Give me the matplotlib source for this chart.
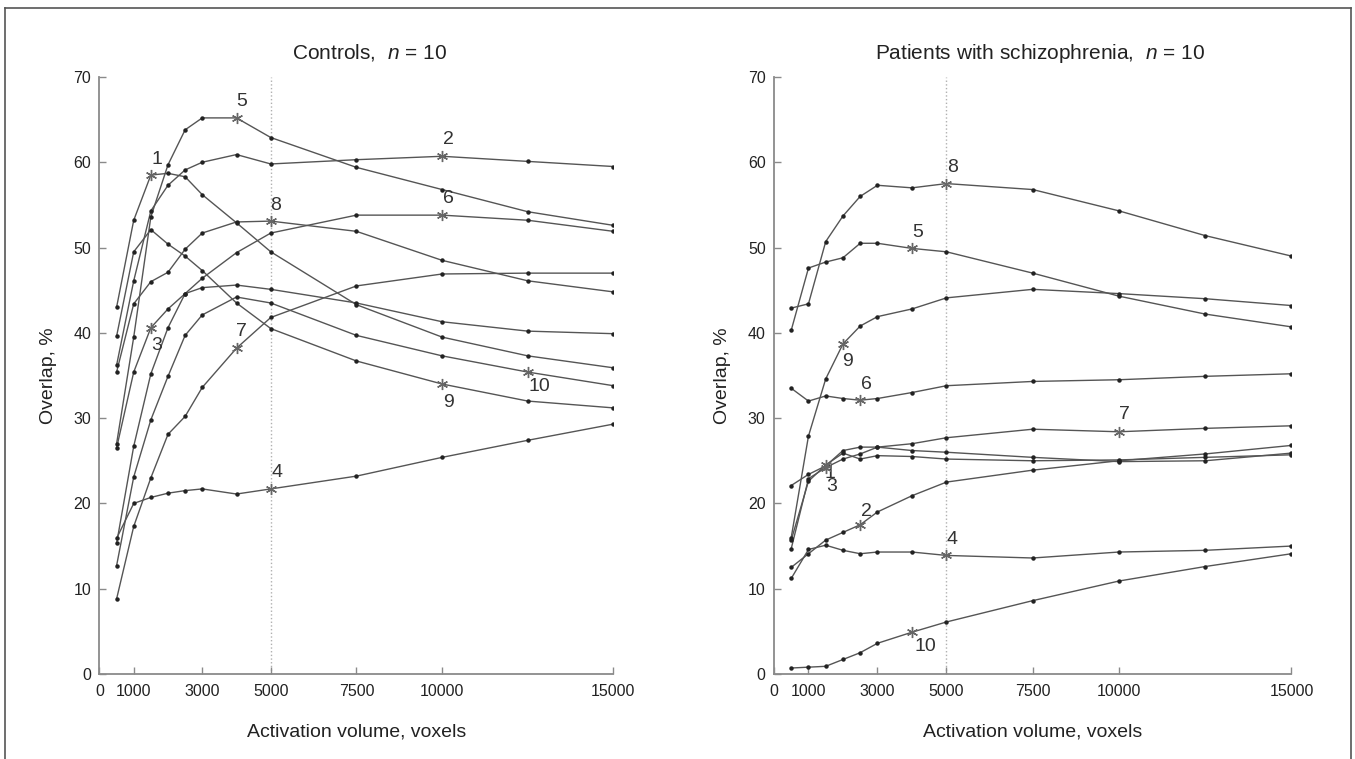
import matplotlib
matplotlib.use('Agg')
import matplotlib.pyplot as plt
from matplotlib.lines import Line2D

plt.rcParams['font.family'] = ['Liberation Sans', 'DejaVu Sans']
plt.rcParams['mathtext.fontset'] = 'custom'
plt.rcParams['mathtext.rm'] = 'Liberation Sans'
plt.rcParams['mathtext.it'] = 'Liberation Sans:italic'

# activation volume (voxels) at which overlap was computed
volume = [500, 1000, 1500, 2000, 2500, 3000, 4000, 5000, 7500, 10000, 12500, 15000]

# controls, overlap %
ctrl_1 = [43.0, 53.2, 58.5, 58.7, 58.3, 56.2, 52.9, 49.5, 43.3, 39.5, 37.3, 35.9]
ctrl_2 = [36.2, 46.1, 54.3, 57.3, 59.1, 60.0, 60.9, 59.8, 60.3, 60.7, 60.1, 59.5]
ctrl_3 = [26.5, 35.4, 40.6, 42.8, 44.6, 45.3, 45.6, 45.1, 43.5, 41.3, 40.2, 39.9]
ctrl_4 = [15.9, 20.0, 20.7, 21.2, 21.5, 21.7, 21.1, 21.7, 23.2, 25.4, 27.4, 29.3]
ctrl_5 = [27.0, 39.5, 53.6, 59.7, 63.8, 65.2, 65.2, 62.9, 59.4, 56.8, 54.2, 52.6]
ctrl_6 = [15.3, 26.7, 35.2, 40.6, 44.6, 46.4, 49.4, 51.7, 53.8, 53.8, 53.2, 51.9]
ctrl_7 = [8.8, 17.3, 23.0, 28.1, 30.2, 33.6, 38.2, 41.8, 45.5, 46.9, 47.0, 47.0]
ctrl_8 = [35.4, 43.4, 46.0, 47.1, 49.8, 51.7, 53.0, 53.1, 51.9, 48.5, 46.1, 44.8]
ctrl_9 = [39.6, 49.5, 52.1, 50.4, 49.0, 47.3, 43.5, 40.5, 36.7, 34.0, 32.0, 31.2]
ctrl_10 = [12.7, 23.1, 29.8, 34.9, 39.7, 42.1, 44.2, 43.5, 39.7, 37.3, 35.4, 33.8]

# patients with schizophrenia, overlap %
pat_1 = [15.7, 22.6, 24.5, 25.9, 25.2, 25.6, 25.5, 25.2, 25.0, 25.1, 25.4, 25.7]
pat_2 = [12.5, 14.1, 15.7, 16.6, 17.5, 19.0, 20.9, 22.5, 23.9, 25.0, 25.8, 26.8]
pat_3 = [14.7, 22.9, 24.2, 25.2, 25.8, 26.6, 26.2, 26.0, 25.4, 24.9, 25.0, 25.9]
pat_4 = [11.2, 14.6, 15.1, 14.5, 14.1, 14.3, 14.3, 13.9, 13.6, 14.3, 14.5, 15.0]
pat_5 = [40.3, 47.6, 48.3, 48.8, 50.5, 50.5, 49.9, 49.5, 47.0, 44.3, 42.2, 40.7]
pat_6 = [33.5, 32.0, 32.6, 32.3, 32.1, 32.3, 33.0, 33.8, 34.3, 34.5, 34.9, 35.2]
pat_7 = [22.1, 23.4, 24.4, 26.2, 26.6, 26.6, 27.0, 27.7, 28.7, 28.4, 28.8, 29.1]
pat_8 = [42.9, 43.4, 50.7, 53.7, 56.0, 57.3, 57.0, 57.5, 56.8, 54.3, 51.4, 49.0]
pat_9 = [16.0, 27.9, 34.6, 38.7, 40.8, 41.9, 42.8, 44.1, 45.1, 44.6, 44.0, 43.2]
pat_10 = [0.7, 0.8, 0.9, 1.7, 2.5, 3.6, 4.9, 6.1, 8.6, 10.9, 12.6, 14.1]

# volume where each subject's curve carries its asterisk
ctrl_star = [1500, 10000, 1500, 5000, 4000, 10000, 4000, 5000, 10000, 12500]
pat_star = [1500, 2500, 1500, 5000, 4000, 2500, 10000, 5000, 2000, 4000]

controls = [ctrl_1, ctrl_2, ctrl_3, ctrl_4, ctrl_5, ctrl_6, ctrl_7, ctrl_8, ctrl_9, ctrl_10]
patients = [pat_1, pat_2, pat_3, pat_4, pat_5, pat_6, pat_7, pat_8, pat_9, pat_10]

# label offsets from the asterisk, in pixels (right, down)
ctrl_off = [(6, -16), (6, -17), (6, 18), (6, -16), (5, -16),
            (6, -17), (5, -17), (5, -16), (6, 18), (12, 14)]
pat_off = [(4, 8), (6, -13), (6, 19), (6, -16), (6, -16),
           (6, -16), (5, -17), (6, -16), (5, 18), (13, 14)]

xticks = [0, 1000, 3000, 5000, 7500, 10000, 15000]
yticks = [0, 10, 20, 30, 40, 50, 60, 70]

line_col = '#555555'
axis_col = '#8a8a8a'


def panel(ax, series, stars, offsets, title, title_x):
    ax.axvline(5000, ymin=0, ymax=1, color='#b0b0b0', ls=':', lw=1.0, zorder=1)
    for i, ys in enumerate(series):
        ax.plot(volume, ys, color=line_col, lw=1.0, zorder=2)
        k = volume.index(stars[i])
        xs_dot = [v for j, v in enumerate(volume) if j != k]
        ys_dot = [y for j, y in enumerate(ys) if j != k]
        ax.plot(xs_dot, ys_dot, ls='none', marker='o', ms=2.2, color='#222222', zorder=3)
        ax.plot(volume[k], ys[k], ls='none', marker=(6, 2, 0), ms=8, mew=1.0,
                color='#666666', zorder=4)
        dx, dy = offsets[i]
        ax.annotate(str(i + 1), (volume[k], ys[k]), xytext=(dx, -dy),
                    textcoords='offset pixels', ha='center', va='center',
                    fontsize=14, color='#333333')
    ax.set_xlim(0, 15000)
    ax.set_ylim(0, 70)
    ax.set_xticks(xticks)
    ax.set_xticklabels([str(t) for t in xticks])
    ax.set_yticks(yticks)
    for s in ['top', 'right']:
        ax.spines[s].set_visible(False)
    for s in ['left', 'bottom']:
        ax.spines[s].set_color(axis_col)
        ax.spines[s].set_linewidth(1.3)
    ax.tick_params(direction='in', length=5, color=axis_col, width=1.0)
    ax.tick_params(axis='x', labelsize=11.5, pad=7, colors='#222222')
    ax.tick_params(axis='y', labelsize=11.5, pad=6, colors='#222222')
    ax.tick_params(color=axis_col)
    ax.set_xlabel('Activation volume, voxels', fontsize=14, labelpad=18, color='#222222')
    ax.set_ylabel('Overlap, %', fontsize=14, labelpad=12, color='#222222')
    ax.set_title(title, fontsize=15, pad=13, color='#222222', x=title_x)


fig = plt.figure(figsize=(13.55, 7.59), dpi=100)
ax1 = fig.add_axes([0.0734, 0.112, 0.3793, 0.7866])
ax2 = fig.add_axes([0.5712, 0.112, 0.3819, 0.7866])

panel(ax1, controls, ctrl_star, ctrl_off, r'Controls,  $n$ = 10', 0.525)
panel(ax2, patients, pat_star, pat_off, r'Patients with schizophrenia,  $n$ = 10', 0.515)

# outer frame (open at the bottom, as in the print)
fx0, fx1, fy1 = 5 / 1355, 1351 / 1355, 1 - 8 / 759
fig.add_artist(Line2D([fx0, fx0], [0, fy1], color='#555555', lw=1.2))
fig.add_artist(Line2D([fx0, fx1], [fy1, fy1], color='#555555', lw=1.2))
fig.add_artist(Line2D([fx1, fx1], [0, fy1], color='#555555', lw=1.2))

fig.savefig('out.png', dpi=100)
